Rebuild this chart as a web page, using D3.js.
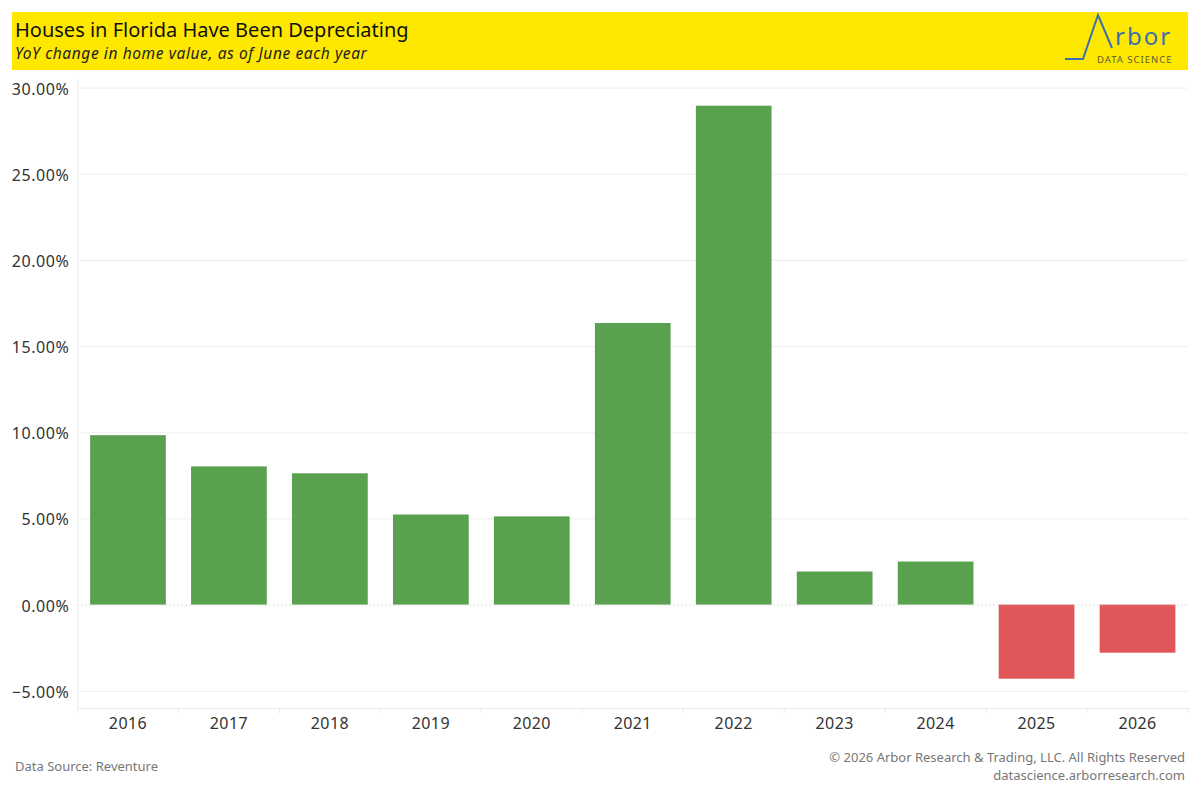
<!DOCTYPE html>
<html>
<head>
<meta charset="utf-8">
<script src="https://cdn.jsdelivr.net/npm/d3@7"></script>
<style>
  body { margin: 0; background: #fff; }
  svg { font-family: "Noto Sans", "Open Sans", sans-serif; }
</style>
</head>
<body>
<div id="chart"></div>
<script>
// chart data
const years = ["2016", "2017", "2018", "2019", "2020", "2021", "2022", "2023", "2024", "2025", "2026"];
const yoyChange = [9.83, 8.02, 7.62, 5.23, 5.12, 16.34, 28.95, 1.92, 2.5, -4.3, -2.79];
const yTicks = [-5, 0, 5, 10, 15, 20, 25, 30];

const width = 1200, height = 800;
const plotLeft = 77.5, plotRight = 1188, plotTop = 79, plotBottom = 708;

const svg = d3.select("#chart")
  .append("svg")
  .attr("width", width)
  .attr("height", height);

// header band
svg.append("rect")
  .attr("x", 12).attr("y", 12)
  .attr("width", plotRight - 12).attr("height", 58)
  .attr("fill", "#ffe800");

svg.append("text")
  .attr("x", 15).attr("y", 37)
  .attr("font-size", 20)
  .attr("fill", "#111")
  .text("Houses in Florida Have Been Depreciating");

svg.append("text")
  .attr("x", 15).attr("y", 59)
  .attr("font-size", 15.5)
  .attr("font-style", "italic")
  .attr("letter-spacing", 0.6)
  .attr("fill", "#222")
  .text("YoY change in home value, as of June each year");

// logo
const logo = svg.append("g");
logo.append("path")
  .attr("d", "M1065,59 L1083,59 L1098,15 L1112,48")
  .attr("fill", "none")
  .attr("stroke", "#3c6eb4")
  .attr("stroke-width", 2);
logo.append("text")
  .attr("x", 1115).attr("y", 45)
  .attr("font-size", 24)
  .attr("fill", "#3c6eb4")
  .attr("letter-spacing", 2)
  .text("rbor");
logo.append("text")
  .attr("x", 1097).attr("y", 63)
  .attr("font-size", 9.5)
  .attr("fill", "#5b5b3a")
  .attr("letter-spacing", 1)
  .text("DATA SCIENCE");

// scales
const x = d3.scaleBand()
  .domain(years)
  .range([plotLeft, plotRight])
  .paddingInner(0.25)
  .paddingOuter(0.125);

const y = d3.scaleLinear()
  .domain([-6, 30.5])
  .range([plotBottom, plotTop]);

// gridlines
svg.append("g")
  .selectAll("line")
  .data(yTicks.filter(d => d !== 0))
  .enter()
  .append("line")
  .attr("x1", plotLeft).attr("x2", plotRight)
  .attr("y1", d => y(d) + 0.5).attr("y2", d => y(d) + 0.5)
  .attr("stroke", "#efefef");

// y axis
const yAxis = svg.append("g")
  .attr("transform", `translate(${plotLeft},0)`)
  .call(d3.axisLeft(y).tickValues(yTicks).tickSize(0).tickPadding(8)
    .tickFormat(d => d3.format(".2f")(d) + "%"));
yAxis.select(".domain").attr("stroke", "#ebebeb");
yAxis.selectAll("text")
  .attr("font-size", 16)
  .attr("dy", "0.4em")
  .attr("letter-spacing", 0.6)
  .attr("fill", "#333")
  .attr("font-family", "Noto Sans, sans-serif");

// bars
svg.append("g")
  .selectAll("rect")
  .data(yoyChange)
  .enter()
  .append("rect")
  .attr("x", (d, i) => x(years[i]))
  .attr("y", d => y(Math.max(0, d)))
  .attr("width", x.bandwidth())
  .attr("height", d => Math.abs(y(d) - y(0)))
  .attr("fill", d => d >= 0 ? "#59a14f" : "#e15759");

// zero line
svg.append("line")
  .attr("x1", plotLeft).attr("x2", plotRight)
  .attr("y1", y(0) + 0.5).attr("y2", y(0) + 0.5)
  .attr("stroke", "#bbb")
  .attr("stroke-dasharray", "1,3");

// x axis
const step = x.step();
const xAxis = svg.append("g")
  .attr("transform", `translate(0,${plotBottom})`)
  .call(d3.axisBottom(x).tickSize(0).tickPadding(10));
xAxis.select(".domain").attr("stroke", "#ebebeb");
xAxis.selectAll("text")
  .attr("font-size", 16)
  .attr("letter-spacing", 0.4)
  .attr("fill", "#333")
  .attr("font-family", "Noto Sans, sans-serif");

// separators between categories
svg.append("g")
  .selectAll("line")
  .data(d3.range(years.length + 1))
  .enter()
  .append("line")
  .attr("x1", i => plotLeft + i * step).attr("x2", i => plotLeft + i * step)
  .attr("y1", plotBottom).attr("y2", plotBottom + 5)
  .attr("stroke", "#e6e6e6");

// footer
svg.append("text")
  .attr("x", 15).attr("y", 771)
  .attr("font-size", 13)
  .attr("fill", "#777")
  .text("Data Source: Reventure");

svg.append("text")
  .attr("x", 1185).attr("y", 762)
  .attr("text-anchor", "end")
  .attr("font-size", 13)
  .attr("fill", "#777")
  .text("© 2026 Arbor Research & Trading, LLC. All Rights Reserved");

svg.append("text")
  .attr("x", 1185).attr("y", 780)
  .attr("text-anchor", "end")
  .attr("font-size", 13)
  .attr("fill", "#777")
  .text("datascience.arborresearch.com");
</script>
</body>
</html>
